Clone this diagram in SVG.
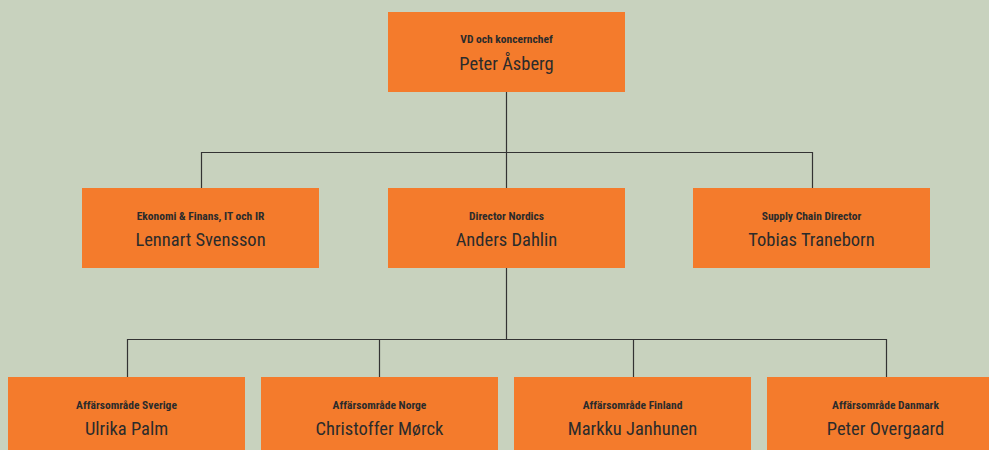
<svg xmlns="http://www.w3.org/2000/svg" width="989" height="450" viewBox="0 0 989 450">
<style>
.bg{fill:#c8d2be}
.box{fill:#f47b2c}
.t{font-family:"Liberation Sans Narrow","Roboto Condensed","Liberation Sans",sans-serif;font-size:11.5px;font-weight:bold;fill:#2b2b2b;text-anchor:middle}
.n{font-family:"Liberation Sans Narrow","Roboto Condensed","Liberation Sans",sans-serif;font-size:18.5px;fill:#2b2b2b;text-anchor:middle}
.c{fill:none;stroke:#333;stroke-width:1.2}
</style>
<rect class="bg" x="0" y="0" width="989" height="450"/>
<g id="connectors">
<path class="c" d="M506.5 92V188M201.5 188V152.5H812.5V188"/>
<path class="c" d="M506.5 268V339.5M127.5 377V339.5H886.5V377M379.5 339.5V377M633.5 339.5V377"/>
</g>
<g id="ceo"><rect class="box" x="388" y="12" width="237" height="80"/><text class="t" x="506.5" y="43">VD och koncernchef</text><text class="n" x="506.5" y="70">Peter Åsberg</text></g>
<g id="cfo"><rect class="box" x="82" y="188" width="237" height="80"/><text class="t" x="200.5" y="220">Ekonomi &amp; Finans, IT och IR</text><text class="n" x="200.5" y="246">Lennart Svensson</text></g>
<g id="nordics"><rect class="box" x="388" y="188" width="237" height="80"/><text class="t" x="506.5" y="220">Director Nordics</text><text class="n" x="506.5" y="246">Anders Dahlin</text></g>
<g id="supply"><rect class="box" x="693" y="188" width="237" height="80"/><text class="t" x="811.5" y="220">Supply Chain Director</text><text class="n" x="811.5" y="246">Tobias Traneborn</text></g>
<g id="sverige"><rect class="box" x="8" y="377" width="237" height="80"/><text class="t" x="126.5" y="409">Affärsområde Sverige</text><text class="n" x="126.5" y="435">Ulrika Palm</text></g>
<g id="norge"><rect class="box" x="261" y="377" width="237" height="80"/><text class="t" x="379.5" y="409">Affärsområde Norge</text><text class="n" x="379.5" y="435">Christoffer Mørck</text></g>
<g id="finland"><rect class="box" x="514" y="377" width="237" height="80"/><text class="t" x="632.5" y="409">Affärsområde Finland</text><text class="n" x="632.5" y="435">Markku Janhunen</text></g>
<g id="danmark"><rect class="box" x="767" y="377" width="237" height="80"/><text class="t" x="885.5" y="409">Affärsområde Danmark</text><text class="n" x="885.5" y="435">Peter Overgaard</text></g>
</svg>
